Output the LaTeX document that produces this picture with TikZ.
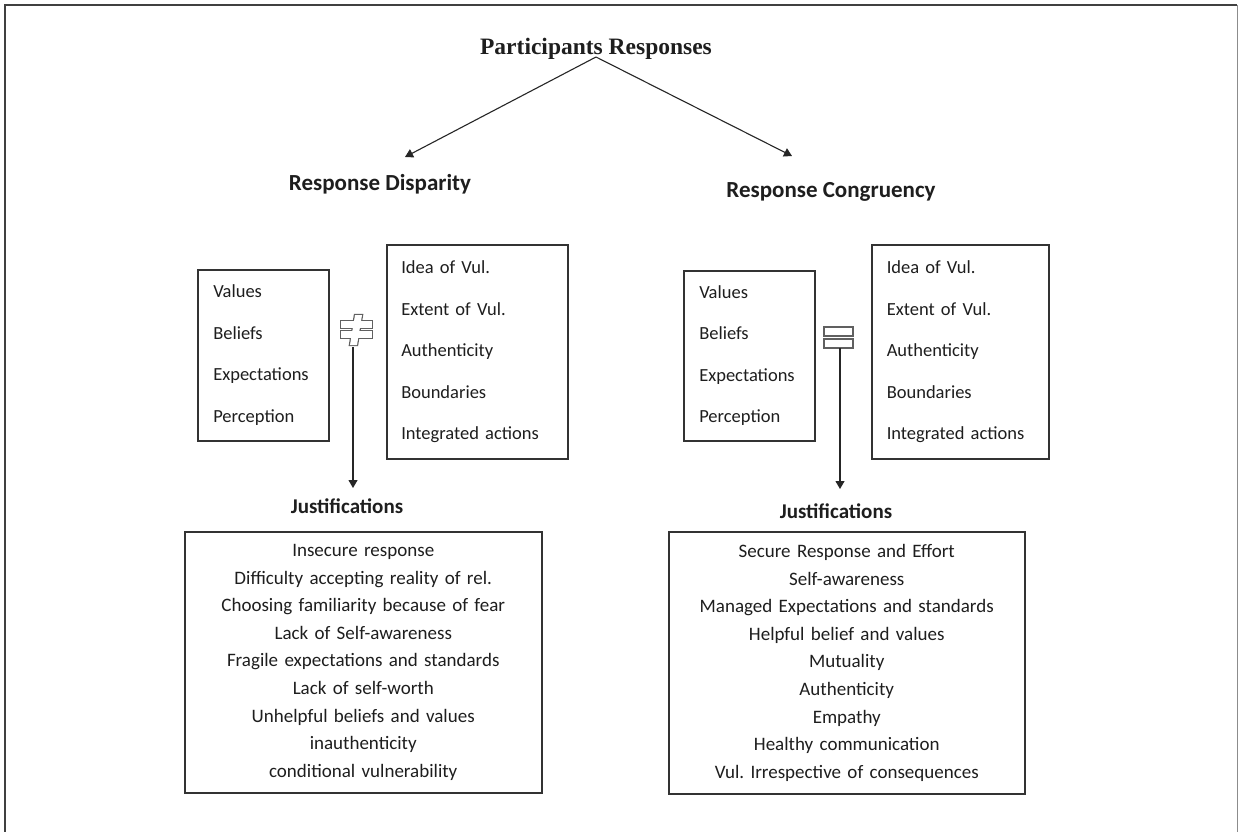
\documentclass[tikz,border=0pt]{standalone}
\usepackage{fontspec}
\setmainfont{Carlito}
\newfontfamily\tnr{Liberation Serif}
\usetikzlibrary{arrows.meta}
\definecolor{boxc}{HTML}{333333}
\definecolor{txtc}{HTML}{1E1E1E}
\definecolor{symc}{HTML}{606060}
\frenchspacing
\begin{document}
\begin{tikzpicture}[x=1pt,y=-1pt,
  every node/.style={text=txtc},
  lbox/.style={draw=boxc, line width=1.5pt, align=left, anchor=north west,
    inner ysep=0pt, font=\fontsize{18.5}{41.5}\selectfont},
  jbox/.style={draw=boxc, line width=1.5pt, align=center, anchor=north west,
    inner sep=0pt, font=\fontsize{19}{27.6}\selectfont},
  head/.style={font=\bfseries\fontsize{23}{28}\selectfont, inner sep=0pt, anchor=base},
  jhead/.style={font=\bfseries\fontsize{21}{24}\selectfont, inner sep=0pt, anchor=base},
  arr/.style={draw=black!85, line width=1.1pt, -{Triangle[length=8pt,width=9pt]}},
  frame/.style={draw=black!75, line width=1.8pt},
  symline/.style={draw=symc, line width=2.4pt, line join=miter}
]
\useasboundingbox (0,0) rectangle (1239,832);
\fill[white] (0,0) rectangle (1239,832);

% outer frame (top, left, right)
\draw[frame] (5,832) -- (5,5) -- (1237,5);
\draw[draw=black!45, line width=1pt] (1237.8,5) -- (1237.8,832);

% title and headings
\node[font=\tnr\bfseries\fontsize{23.5}{28}\selectfont, inner sep=0pt, anchor=base] (title) at (596,55) {Participants Responses};
\node[head] (dispH) at (380,190) {Response Disparity};
\node[head] (congH) at (831,197) {Response Congruency};

\coordinate (apex) at (596,57);
\coordinate (tipL) at (405,157);
\coordinate (tipR) at (792,156);
\draw[arr] (apex) -- (tipL);
\draw[arr] (apex) -- (tipR);

% left side boxes
\node[lbox, inner xsep=15.5pt, text width=100pt, minimum height=171pt] (valL) at (197,269)
  {Values\\Beliefs\\Expectations\\Perception};
\node[lbox, inner xsep=14.5pt, text width=152pt, minimum height=214pt] (ideaL) at (386,244)
  {Idea of Vul.\\Extent of Vul.\\Authenticity\\Boundaries\\Integrated actions};

% right side boxes
\node[lbox, inner xsep=15.5pt, text width=100pt, minimum height=170pt] (valR) at (683,270)
  {Values\\Beliefs\\Expectations\\Perception};
\node[lbox, inner xsep=15pt, text width=147pt, minimum height=214pt] (ideaR) at (871,244)
  {Idea of Vul.\\Extent of Vul.\\Authenticity\\Boundaries\\Integrated actions};

% not-equal symbol (outlined glyph)
\draw[symline] (341,321) rectangle (372,327.5);
\draw[symline] (341,331) rectangle (372,337.5);
\draw[symline] (355,315) -- (362,315) -- (357,345) -- (350,345) -- cycle;
\fill[white] (341,321) rectangle (372,327.5);
\fill[white] (341,331) rectangle (372,337.5);
\fill[white] (355,315) -- (362,315) -- (357,345) -- (350,345) -- cycle;
\coordinate (neqL) at (353,347);

% equal symbol (outlined)
\draw[symc, line width=1.8pt] (824,327) rectangle (853,336);
\draw[symc, line width=1.8pt] (824,339) rectangle (853,348);
\coordinate (eqR) at (840,348);

% Justifications
\node[jhead] (jL) at (347,513) {Justifications};
\node[jhead] (jR) at (836,518) {Justifications};
\coordinate (jLtop) at (353,488);
\coordinate (jRtop) at (840,489);
\draw[arr] (neqL) -- (jLtop);
\draw[arr] (eqR) -- (jRtop);

\node[jbox, text width=357pt, minimum height=261pt] (justL) at (184,531)
  {Insecure response\\
   Difficulty accepting reality of rel.\\
   Choosing familiarity because of fear\\
   Lack of Self-awareness\\
   Fragile expectations and standards\\
   Lack of self-worth\\
   Unhelpful beliefs and values\\
   inauthenticity\\
   conditional vulnerability};
\node[jbox, text width=356pt, minimum height=262pt] (justR) at (668,531)
  {Secure Response and Effort\\
   Self-awareness\\
   Managed Expectations and standards\\
   Helpful belief and values\\
   Mutuality\\
   Authenticity\\
   Empathy\\
   Healthy communication\\
   Vul. Irrespective of consequences};
\end{tikzpicture}
\end{document}
